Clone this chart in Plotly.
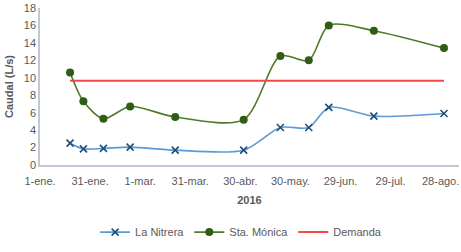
import plotly.graph_objects as go

dates = ["2016-01-19", "2016-01-27", "2016-02-08", "2016-02-24", "2016-03-22",
         "2016-05-02", "2016-05-24", "2016-06-10", "2016-06-22", "2016-07-19", "2016-08-30"]
la_nitrera = [2.5, 1.85, 1.9, 2.05, 1.7, 1.7, 4.3, 4.3, 6.6, 5.6, 5.9]
sta_monica = [10.6, 7.3, 5.3, 6.7, 5.5, 5.2, 12.5, 12.0, 16.0, 15.4, 13.4]
demanda = [9.65] * len(dates)

tick_vals = ["2016-01-01", "2016-01-31", "2016-03-01", "2016-03-31", "2016-04-30",
             "2016-05-30", "2016-06-29", "2016-07-29", "2016-08-28"]
tick_text = ["1-ene.", "31-ene.", "1-mar.", "31-mar.", "30-abr.",
             "30-may.", "29-jun.", "29-jul.", "28-ago."]
y_ticks = [0, 2, 4, 6, 8, 10, 12, 14, 16, 18]

font = "Liberation Sans"
gray = "#595959"

fig = go.Figure()
fig.add_trace(go.Scatter(
    x=dates, y=la_nitrera, name="La Nitrera", mode="lines+markers",
    line=dict(color="#5b9bd5", width=1.6, shape="spline", smoothing=0.8),
    marker=dict(symbol="x-thin", size=7, line=dict(color="#1f4e79", width=1.6), color="#1f4e79"),
))
fig.add_trace(go.Scatter(
    x=dates, y=sta_monica, name="Sta. Mónica", mode="lines+markers",
    line=dict(color="#4e7a2c", width=1.6, shape="spline", smoothing=0.8),
    marker=dict(symbol="circle", size=8, color="#2f5d14"),
))
fig.add_trace(go.Scatter(
    x=dates, y=demanda, name="Demanda", mode="lines",
    line=dict(color="#f04848", width=2),
))

fig.update_layout(
    width=461, height=252,
    margin=dict(l=40, r=2, t=5, b=87),
    paper_bgcolor="white", plot_bgcolor="white",
    font=dict(family=font, size=11, color=gray),
    showlegend=True,
    legend=dict(orientation="h", x=0.48, xanchor="center", y=-0.335, yanchor="top",
                font=dict(size=11, color=gray), itemwidth=30, tracegroupgap=0),
    xaxis=dict(
        type="date", range=["2016-01-01", "2016-09-08"],
        tickmode="array", tickvals=tick_vals, ticktext=tick_text,
        showgrid=False, zeroline=False, showline=True, linecolor="#bfc9d6", linewidth=1.5,
        ticks="", ticklabelstandoff=5, tickfont=dict(size=11, color=gray),
        title=dict(text="<b>2016</b>", font=dict(size=11, color=gray), standoff=10),
    ),
    yaxis=dict(
        range=[0, 18], tickmode="array", tickvals=y_ticks, showgrid=False, zeroline=False,
        showline=True, linecolor="#bfc9d6", linewidth=1.5, ticks="",
        ticklabeloverflow="allow",
        tickfont=dict(size=11, color=gray),
        title=dict(text="<b>Caudal (L/s)</b>", font=dict(size=11, color=gray), standoff=8),
    ),
)

fig.write_html("out.html")
